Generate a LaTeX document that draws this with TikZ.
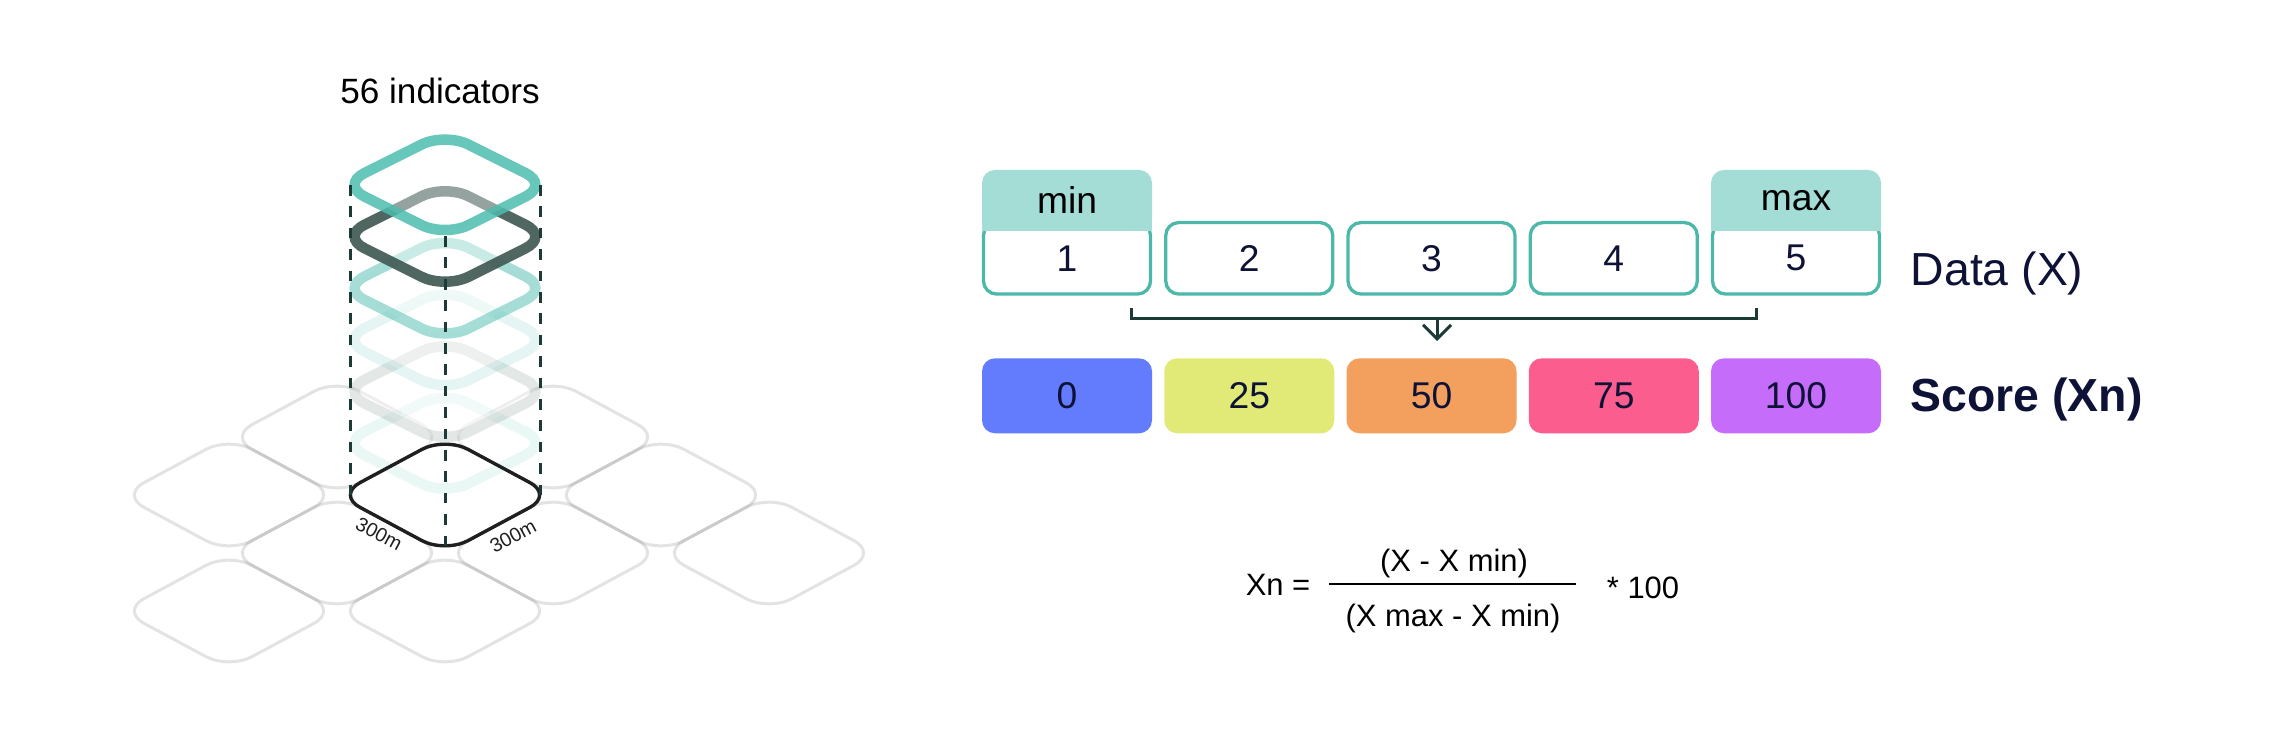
\documentclass[tikz,border=0pt]{standalone}
\usepackage{fontspec}
\setmainfont{Liberation Sans}
\usetikzlibrary{arrows.meta, positioning, calc}

\definecolor{tileteal}{HTML}{4DBDAF}
\definecolor{tiledark}{HTML}{465E59}
\definecolor{guidedark}{HTML}{1D3B36}
\definecolor{datateal}{HTML}{4CB8AA}
\definecolor{headfill}{HTML}{A3DDD6}
\definecolor{navy}{HTML}{0D1236}
\definecolor{scoreA}{HTML}{637CFE}
\definecolor{scoreB}{HTML}{E1E977}
\definecolor{scoreC}{HTML}{F39F5E}
\definecolor{scoreD}{HTML}{FC5D8F}
\definecolor{scoreE}{HTML}{C56DFA}

\begin{document}
\begin{tikzpicture}[
    every node/.style={inner sep=0pt},
    gridtile/.style={draw=black, draw opacity=0.11, line width=0.03cm, rounded corners=0.26cm},
    layer/.style={line width=0.105cm, rounded corners=0.26cm, fill=white, fill opacity=0.4},
    basetile/.style={draw=black!88, line width=0.034cm, rounded corners=0.26cm},
    guide/.style={draw=guidedark, line width=0.03cm, dash pattern=on 0.107cm off 0.107cm},
    databox/.style={draw=datateal, line width=0.033cm, rounded corners=0.13cm, fill=white,
        minimum width=1.67cm, minimum height=0.715cm, font=\fontsize{10.6}{12}\selectfont, text=navy},
    headbox/.style={fill=headfill, rounded corners=0.13cm, minimum width=1.70cm, minimum height=0.607cm,
        font=\fontsize{10.6}{12}\selectfont, text=black},
    scorebox/.style={rounded corners=0.13cm, minimum width=1.70cm, minimum height=0.75cm,
        font=\fontsize{10.6}{12}\selectfont, text=navy},
    bracket/.style={draw=guidedark, line width=0.03cm},
    formula/.style={font=\fontsize{8.8}{10}\selectfont, anchor=base},
    rowlabel/.style={font=\fontsize{13.2}{15}\selectfont, text=navy, anchor=base west},
    sidelabel/.style={font=\fontsize{5.6}{6}\selectfont, text=black!88}
]

\useasboundingbox (0,0) rectangle (22.9,7.47);

% ============ GRID OF CELLS ============
\foreach \i/\j in {-1/1, 1/1, -2/0, 2/0, -1/-1, 1/-1, 3/-1, -2/-2, 0/-2} {
    \draw[gridtile, shift={({4.45+1.08*\i}, {2.52+0.58*\j})}]
        (-0.54,0.29) -- (0,0.58) -- (1.08,0) -- (0,-0.58) -- (-1.08,0) -- cycle;
}

% Indicator layers (bottom to top)
\foreach \k/\c/\o in {1/tileteal/0.12, 2/tiledark/0.15, 3/tileteal/0.15, 4/tileteal/0.5, 5/tiledark/0.95, 6/tileteal/0.85} {
    \draw[layer, draw=\c, draw opacity=\o, shift={(4.45, {2.52+0.517*\k})}]
        (-0.52,0.26) -- (0,0.52) -- (1.04,0) -- (0,-0.52) -- (-1.04,0) -- cycle;
}

% Base cell
\draw[basetile, shift={(4.45,2.52)}]
    (-0.54,0.29) -- (0,0.58) -- (1.08,0) -- (0,-0.58) -- (-1.08,0) -- cycle;

% Guides
\coordinate (topL) at (3.50,5.62);
\coordinate (topR) at (5.40,5.62);
\coordinate (topM) at (4.45,5.11);
\coordinate (baseL) at (3.50,2.52);
\coordinate (baseR) at (5.40,2.52);
\coordinate (baseM) at (4.45,2.01);
\draw[guide] (topL) -- (baseL);
\draw[guide] (topR) -- (baseR);
\draw[guide] (topM) -- (baseM);

\node[font=\fontsize{10}{12}\selectfont] (title) at (4.40,6.56) {56 indicators};
\node[sidelabel, rotate=-28.2] (sideL) at (3.79,2.13) {300m};
\node[sidelabel, rotate=28.2] (sideR) at (5.13,2.11) {300m};

% ============ DATA ROW ============
\foreach \v [count=\i from 0] in {1,...,5} {
    \node[databox] (d\v) at ({10.67+1.8225*\i}, 4.887) {\v};
}
\fill[headfill] (9.82,5.163) rectangle (11.52,5.40);
\node[headbox] (dmin) at (10.67,5.467) {min};
\fill[headfill] (17.11,5.163) rectangle (18.81,5.40);
\node[headbox] (dmax) at (17.96,5.467) {max};

\node[rowlabel] (datalbl) at (19.10,4.62) {Data (X)};

% Bracket and arrow
\coordinate (brL) at (11.31,4.39);
\coordinate (brR) at (17.56,4.39);
\coordinate (brM) at (14.37,4.287);
\coordinate (brTip) at (14.37,4.06);
\draw[bracket] (brL) -- (brL |- brM) -- (brR |- brM) -- (brR);
\draw[bracket, -{Straight Barb[length=0.14cm, width=0.28cm]}] (brM) -- (brTip);

% ============ SCORE ROW ============
\foreach \v/\c [count=\i from 0] in {0/scoreA, 25/scoreB, 50/scoreC, 75/scoreD, 100/scoreE} {
    \node[scorebox, fill=\c] (s\i) at ({10.67+1.8225*\i}, 3.512) {\v};
}
\node[rowlabel, font=\bfseries\fontsize{13.2}{15}\selectfont] (scorelbl) at (19.10,3.353) {Score (Xn)};

% ============ FORMULA ============
\node[formula] (xn) at (12.78,1.52) {Xn =};
\node[formula] (numer) at (14.54,1.753) {(X - X min)};
\node[formula] (denom) at (14.53,1.21) {(X max - X min)};
\node[formula] (times) at (16.43,1.49) {* 100};
\coordinate (barL) at (13.293,1.627);
\coordinate (barR) at (15.76,1.627);
\draw[line width=0.02cm] (barL) -- (barR);

\end{tikzpicture}
\end{document}
